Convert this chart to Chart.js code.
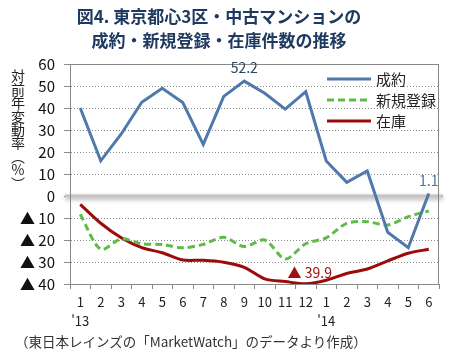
<!DOCTYPE html>
<html lang="ja">
<head>
<meta charset="UTF-8">
<title>東京都心3区・中古マンションの成約・新規登録・在庫件数の推移</title>
<script src="https://cdn.jsdelivr.net/npm/chart.js"></script>
<style>
  body { margin: 0; background: #fff; font-family: 'Noto Sans CJK JP', sans-serif; }
  #wrap { position: relative; width: 450px; height: 363px; overflow: hidden; }
  #chart { position: absolute; left: 0; top: 0; }
  h1 {
    position: absolute; left: 0; top: 4px; width: 438px; margin: 0;
    text-align: center; font-size: 17px; line-height: 24px; font-weight: bold; color: #1f3a60;
  }
  .ytitle {
    position: absolute; left: 9px; top: 69px; writing-mode: vertical-rl; text-orientation: upright;
    font-size: 14px; line-height: 18px; letter-spacing: -0.6px; color: #222;
  }
  .note { position: absolute; left: 15px; top: 331px; font-size: 13.5px; color: #333; white-space: nowrap; }
</style>
</head>
<body>
<div id="wrap">
  <canvas id="chart" width="450" height="363"></canvas>
  <h1>図4. 東京都心3区・中古マンションの<br>成約・新規登録・在庫件数の推移</h1>
  <div class="ytitle">対前年変動率︵%︶</div>
  <div class="note">（東日本レインズの「MarketWatch」のデータより作成）</div>
</div>
<script>
  // 2013年1月〜2014年6月
  const months = ['1','2','3','4','5','6','7','8','9','10','11','12','1','2','3','4','5','6'];
  const years = ["'13",'','','','','','','','','','','',"'14",'','','','',''];
  const seiyaku = [40, 16, 28.2, 42.6, 49, 42.5, 23.5, 45.3, 52.2, 46.7, 39.5, 47.4, 15.9, 6.2, 11.4, -16.5, -23.5, 1.1];
  const shinki = [-8.3, -24.2, -19.5, -21.7, -22, -23.5, -22, -18.8, -23, -20, -28.6, -21.7, -19, -12.4, -11.7, -13.2, -9.4, -6.8];
  const zaiko = [-3.8, -12.4, -19, -23.5, -25.8, -29.1, -29.2, -30.1, -32.4, -37.7, -38.9, -39.9, -38.3, -35.2, -33.2, -29.5, -26, -24.2];
  const yMin = -40, yMax = 60, yStep = 10;
  // 数値ラベル [系列, 位置, 文字]
  const pointLabels = [[0, 8, '52.2'], [0, 17, '1.1'], [2, 11, '▲ 39.9']];

  const frame = {
    id: 'frame',
    beforeDatasetsDraw(chart) {
      const { ctx, chartArea: a, scales } = chart;
      const y0 = scales.y.getPixelForValue(0);
      ctx.save();
      ctx.shadowColor = 'rgba(0,0,0,0.35)';
      ctx.shadowBlur = 4;
      ctx.shadowOffsetY = 2;
      ctx.strokeStyle = '#c4c4c4';
      ctx.lineWidth = 3;
      ctx.beginPath();
      ctx.moveTo(a.left - 5, y0);
      ctx.lineTo(a.right + 4, y0);
      ctx.stroke();
      ctx.restore();
      ctx.save();
      ctx.strokeStyle = '#888';
      ctx.lineWidth = 1;
      ctx.strokeRect(a.left + 0.5, a.top + 0.5, a.width - 1, a.height);
      ctx.restore();
    },
    afterDatasetsDraw(chart) {
      const { ctx, chartArea: a, scales } = chart;
      ctx.save();
      ctx.font = '15px "Noto Sans CJK JP"';
      ctx.textBaseline = 'middle';
      chart.data.datasets.forEach((ds, i) => {
        const y = a.top + 15 + i * 21;
        ctx.strokeStyle = ds.borderColor;
        ctx.lineWidth = 3;
        ctx.setLineDash(ds.borderDash || []);
        ctx.beginPath();
        ctx.moveTo(327, y);
        ctx.lineTo(371, y);
        ctx.stroke();
        ctx.setLineDash([]);
        ctx.fillStyle = '#222';
        ctx.fillText(ds.label, 376, y);
      });
      ctx.font = '14px "Noto Sans CJK JP"';
      ctx.textAlign = 'center';
      pointLabels.forEach(([s, i, t]) => {
        const x = scales.x.getPixelForValue(i);
        const y = scales.y.getPixelForValue(chart.data.datasets[s].data[i]);
        if (s === 0) {
          ctx.fillStyle = i === 8 ? '#2b4466' : '#4a72a3';
          ctx.fillText(t, x, y - 13);
        } else {
          ctx.fillStyle = '#a01010';
          ctx.fillText(t, x + 4, y - 11);
        }
      });
      ctx.restore();
    }
  };

  new Chart(document.getElementById('chart'), {
    type: 'line',
    data: {
      labels: months,
      datasets: [
        { label: '成約', data: seiyaku, borderColor: '#4f79ab', borderWidth: 3, tension: 0 },
        { label: '新規登録', data: shinki, borderColor: '#5dbb46', borderWidth: 3, borderDash: [7, 4], tension: 0.3 },
        { label: '在庫', data: zaiko, borderColor: '#9c0a0a', borderWidth: 3, tension: 0.3 }
      ]
    },
    options: {
      responsive: false,
      animation: false,
      events: [],
      elements: { point: { radius: 0 } },
      layout: { padding: { top: 64, right: 11, bottom: 29, left: 0 } },
      plugins: { legend: { display: false }, tooltip: { enabled: false }, title: { display: false } },
      scales: {
        x: {
          offset: true,
          afterFit: s => { s.height = 50; },
          grid: { offset: true, drawOnChartArea: false, tickLength: 5, color: '#888' },
          border: { color: '#888' },
          ticks: {
            autoSkip: false, maxRotation: 0, padding: 3,
            color: '#222', font: { size: 13, family: '"Noto Sans CJK JP"', lineHeight: 1.5 },
            callback: (v, i) => [months[i], years[i]]
          }
        },
        y: {
          min: yMin, max: yMax,
          afterFit: s => { s.width = 70; },
          grid: {
            color: c => (c.tick.value === 0 || c.tick.value === yMax || c.tick.value === yMin) ? 'rgba(0,0,0,0)' : '#8a8a8a',
            tickColor: '#888', tickLength: 6
          },
          border: { color: '#888', dash: [1, 2] },
          ticks: {
            stepSize: yStep, padding: 9, color: '#111',
            font: { size: 15, family: '"Noto Sans CJK JP"' },
            callback: v => v < 0 ? '▲ ' + (-v) : String(v)
          }
        }
      }
    },
    plugins: [frame]
  });
</script>
</body>
</html>
